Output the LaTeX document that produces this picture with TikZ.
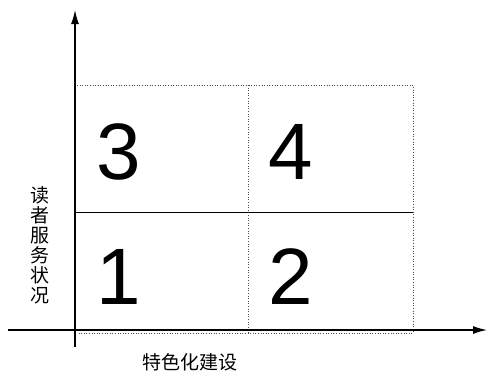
\documentclass[tikz,border=0pt]{standalone}
\usepackage{fontspec}
\setmainfont{Liberation Sans}
\newfontfamily\cjk{Noto Sans CJK SC}
\usetikzlibrary{arrows.meta}
\begin{document}
\begin{tikzpicture}[x=1pt,y=-1pt,
  axis/.style={line width=1.3pt,-{Latex[length=14pt,width=8pt]}},
  cell/.style={draw=black!70,line width=0.6pt,dotted},
  digit/.style={font=\fontsize{80}{80}\selectfont,inner sep=0pt},
  lab/.style={font=\cjk\fontsize{19}{20}\selectfont,inner sep=0pt}]
\useasboundingbox (0,0) rectangle (487,378);
% dotted grid
\coordinate (tl) at (77,85);
\coordinate (tm) at (248,85);
\coordinate (tr) at (413,85);
\coordinate (bl) at (77,333);
\coordinate (bm) at (248,333);
\coordinate (br) at (413,333);
\coordinate (ml) at (75,212);
\coordinate (mr) at (413,212);
\draw[cell] (tl) -- (tr) -- (br) -- (bl);
\draw[cell] (tm) -- (bm);
\draw[line width=1pt] (ml) -- (mr);
% axes
\coordinate (ybot) at (75,347);
\coordinate (ytop) at (75,10);
\coordinate (xl) at (8,330);
\coordinate (xr) at (487,330);
\draw[axis] (ybot) -- (ytop);
\draw[axis] (xl) -- (xr);
% digits
\node[digit] (n3) at (119,152) {3};
\node[digit] (n4) at (291,152) {4};
\node[digit] (n1) at (119,277) {1};
\node[digit] (n2) at (291,277) {2};
% labels
\node[lab,align=center] (ylab) at (40,245) {读\\者\\服\\务\\状\\况};
\node[lab] (xlab) at (190,362) {特色化建设};
\end{tikzpicture}
\end{document}
